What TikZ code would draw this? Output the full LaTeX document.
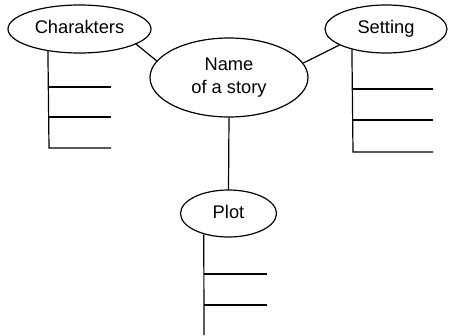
\documentclass[tikz,border=0pt]{standalone}
\usepackage{fontspec}
\setmainfont{Liberation Sans}
\usetikzlibrary{shapes.geometric}
\begin{document}
\begin{tikzpicture}[x=1pt,y=-1pt,line width=1.2pt,
  oval/.style={draw,ellipse,inner sep=0pt,font=\fontsize{18.3}{22.3}\selectfont,align=center},
  oneline/.style={text height=13pt,text depth=4pt},
  branch/.style={draw,line width=1.2pt}]
\useasboundingbox (0,0) rectangle (450,335);
\node[oval,oneline,minimum width=143pt,minimum height=48pt] (char) at (79.5,29) {Charakters};
\node[oval,minimum width=158pt,minimum height=79pt] (name) at (229,77.5) {Name\\of a story};
\node[oval,oneline,minimum width=122pt,minimum height=48pt] (set) at (386,29) {Setting};
\node[oval,oneline,minimum width=96pt,minimum height=47pt] (plot) at (228.5,213.5) {Plot};
% connectors
\draw (char.-15.1) -- (name.167.3);
\draw (name.11.4) -- (set.199.3);
\draw (name.south) -- (plot.north);
% Charakters branches
\coordinate (c1) at (49,87); \coordinate (c1e) at (111,87);
\coordinate (c2) at (49,117); \coordinate (c2e) at (111,117);
\coordinate (c3) at (49,148); \coordinate (c3e) at (111,148);
\draw (char.215.4) -- (c3) -- (c3e);
\draw (c1) -- (c1e);
\draw (c2) -- (c2e);
% Setting branches
\coordinate (s1) at (353,89); \coordinate (s1e) at (433,89);
\coordinate (s2) at (353,120); \coordinate (s2e) at (433,120);
\coordinate (s3) at (353,152); \coordinate (s3e) at (433,152);
\draw (set.211.5) -- (s3) -- (s3e);
\draw (s1) -- (s1e);
\draw (s2) -- (s2e);
% Plot branches
\coordinate (p1) at (204,274); \coordinate (p1e) at (267,274);
\coordinate (p2) at (204,305); \coordinate (p2e) at (267,305);
\coordinate (p3) at (204,335);
\draw (plot.220.3) -- (p3);
\draw (p1) -- (p1e);
\draw (p2) -- (p2e);
\end{tikzpicture}
\end{document}
